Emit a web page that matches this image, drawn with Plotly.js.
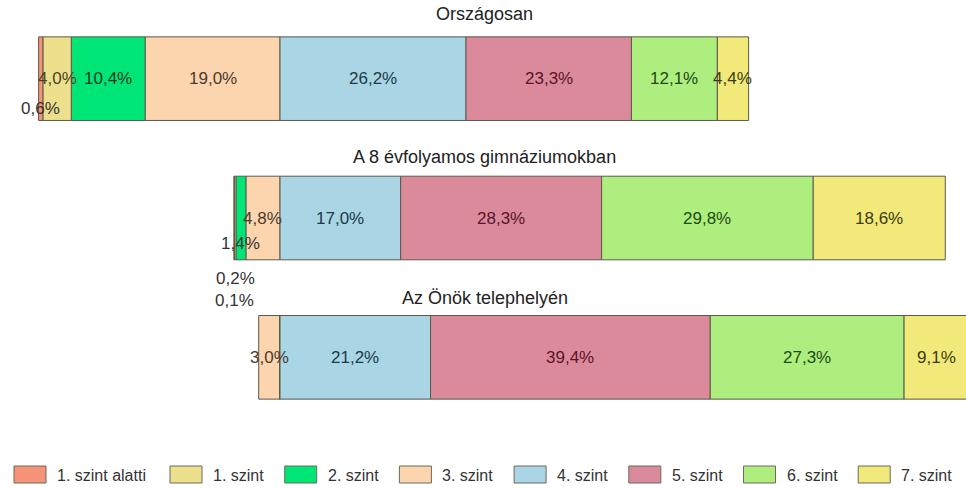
<!DOCTYPE html>
<html>
<head>
<meta charset="utf-8">
<script src="https://cdn.plot.ly/plotly-3.0.1.min.js"></script>
<style>html,body{margin:0;padding:0;background:#fff;}#chart{width:966px;height:488px;}</style>
</head>
<body>
<div id="chart"></div>
<script>
// ---- data ----
const bars = ["Országosan", "A 8 évfolyamos gimnáziumokban", "Az Önök telephelyén"];
const levels = ["1. szint alatti", "1. szint", "2. szint", "3. szint", "4. szint", "5. szint", "6. szint", "7. szint"];
const orszagosan = [0.6, 4.0, 10.4, 19.0, 26.2, 23.3, 12.1, 4.4];
const gimnazium8 = [0.1, 0.2, 1.4, 4.8, 17.0, 28.3, 29.8, 18.6];
const telephely  = [0, 0, 0, 3.0, 21.2, 39.4, 27.3, 9.1];
const series = [orszagosan, gimnazium8, telephely];

// ---- style ----
const colors = ["#F79478", "#EDE08C", "#00E676", "#FCD4AE", "#A9D5E5", "#DB8A9C", "#AEEE7F", "#F1EA7A"];
const textColors = ["#333333", "#4a4420", "#103a1e", "#4a3b2e", "#1c3a48", "#5a1428", "#1e4a12", "#3e3a10"];
const FONT = "'Liberation Sans', Arial, sans-serif";
const negCount = 4;            // levels below the 3/4 boundary drawn to the left
const smallLimit = 2;          // values below this get a label shifted below the bar
const smallShift = {"0-0": -30, "1-2": -25, "1-1": -60, "1-0": -82};
const titleShift = [65, 61, 59];
const pxPerUnit = 7.1, zeroPx = 280, W = 966, H = 488, mT = 9, mB = 61;

function fmt(v) { return v.toFixed(1).replace('.', ',') + '%'; }

// ---- traces (stack order: 3,2,1,alatti to the left; 4..7 to the right) ----
const order = [3, 2, 1, 0, 4, 5, 6, 7];
const traces = order.map(li => {
  const sign = li < negCount ? -1 : 1;
  return {
    type: 'bar',
    orientation: 'h',
    name: levels[li],
    y: bars,
    x: series.map(s => sign * s[li]),
    marker: {color: colors[li], line: {color: '#5a5a4a', width: 1}},
    hoverinfo: 'name+x',
    showlegend: false
  };
});

// ---- annotations: titles and value labels (on top of all bars) ----
const annotations = [];
bars.forEach((b, bi) => {
  annotations.push({
    text: b, xref: 'paper', x: 0.502, yref: 'y', y: b, yshift: titleShift[bi],
    showarrow: false, xanchor: 'center', yanchor: 'middle',
    font: {family: FONT, size: 18, color: '#222'}
  });
  const s = series[bi];
  for (let li = 0; li < levels.length; li++) {
    const v = s[li];
    if (!(v > 0)) continue;
    let inner = 0, center;
    if (li < negCount) {
      for (let k = li + 1; k < negCount; k++) inner += s[k];
      center = -(inner + v / 2);
    } else {
      for (let k = negCount; k < li; k++) inner += s[k];
      center = inner + v / 2;
    }
    const small = v < smallLimit;
    annotations.push({
      text: fmt(v), xref: 'x', x: center, yref: 'y', y: b,
      yshift: small ? (smallShift[bi + '-' + li] || -30) : 0,
      showarrow: false, xanchor: 'center', yanchor: 'middle',
      font: {family: FONT, size: 17, color: small ? '#333' : textColors[li]}
    });
  }
});

// ---- custom legend ----
const plotBottom = H - mB, plotH = H - mT - mB;
const toPaperY = py => (plotBottom - py) / plotH;
const shapes = [];
levels.forEach((name, li) => {
  const x0 = li === 0 ? 14 : 170 + 114.7 * (li - 1);
  shapes.push({
    type: 'rect', xref: 'paper', yref: 'paper',
    x0: x0 / W, x1: (x0 + 32) / W, y0: toPaperY(483), y1: toPaperY(466),
    fillcolor: colors[li], line: {color: '#6b6b5a', width: 1}
  });
  annotations.push({
    text: name, xref: 'paper', yref: 'paper', x: (x0 + 41) / W, y: toPaperY(475),
    xanchor: 'left', yanchor: 'middle', showarrow: false,
    font: {family: FONT, size: 16, color: '#333'}
  });
});

const layout = {
  width: W, height: H,
  margin: {l: 0, r: 0, t: mT, b: mB, pad: 0},
  paper_bgcolor: '#fff', plot_bgcolor: '#fff',
  barmode: 'relative',
  bargap: 0.4,
  showlegend: false,
  xaxis: {range: [-zeroPx / pxPerUnit, (W - zeroPx) / pxPerUnit], showgrid: false, zeroline: false,
          showticklabels: false, ticks: '', showline: false, fixedrange: true},
  yaxis: {type: 'category', range: [2.5, -0.5], showgrid: false, zeroline: false,
          showticklabels: false, ticks: '', showline: false, fixedrange: true},
  annotations: annotations,
  shapes: shapes,
  font: {family: FONT}
};

Plotly.newPlot('chart', traces, layout, {displayModeBar: false, staticPlot: true});
</script>
</body>
</html>
